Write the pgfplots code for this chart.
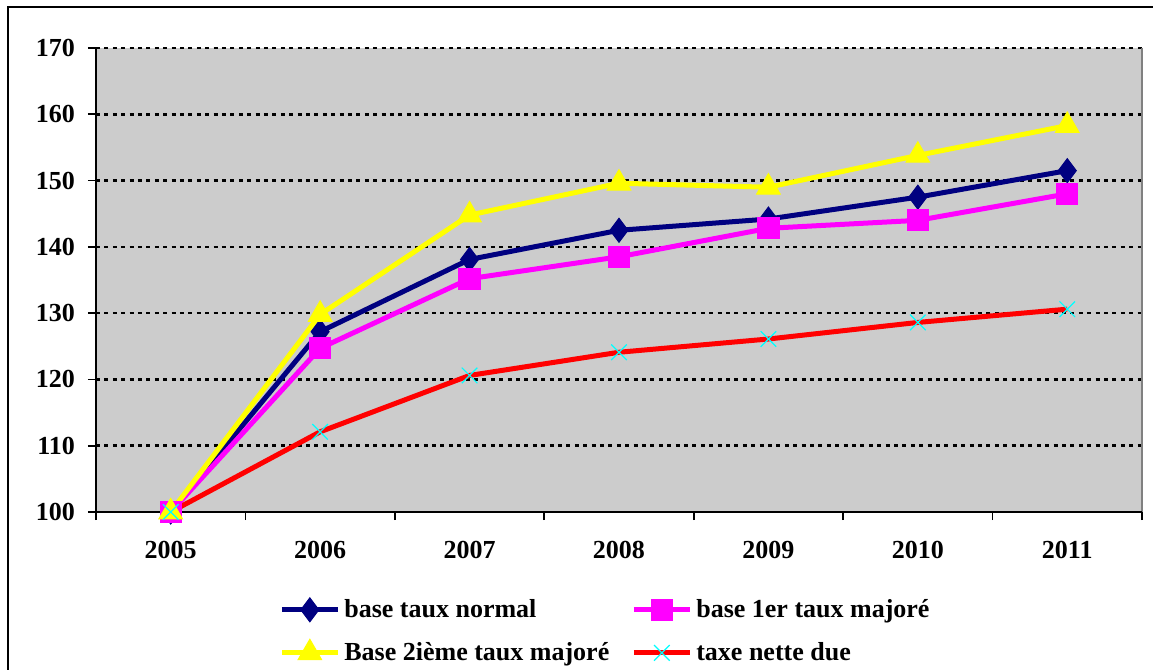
\documentclass[border=0pt]{standalone}
\usepackage{fontspec}
\setmainfont{Liberation Serif}
\usepackage{pgfplots}
\pgfplotsset{compat=1.18}
\definecolor{plotgray}{RGB}{204,204,204}
\definecolor{navyc}{RGB}{0,0,128}
\definecolor{magc}{RGB}{255,0,255}
\definecolor{yelc}{RGB}{255,255,0}
\definecolor{redc}{RGB}{255,0,0}
\definecolor{cyac}{RGB}{0,255,255}
\begin{document}
\begin{tikzpicture}[x=1pt,y=1pt]
\useasboundingbox (-48,-79) rectangle (528.5,256);
\draw[line width=1.2pt] (-44,-120) rectangle (560,252.5);
\begin{axis}[
  at={(0,0)}, anchor=south west, scale only axis,
  width=523pt, height=232pt,
  xmin=-0.5, xmax=6.5, ymin=100, ymax=170,
  xtick={0,...,6}, xticklabels={2005,2006,2007,2008,2009,2010,2011},
  minor xtick={-0.5,0.5,...,6.5},
  ytick={100,110,...,170},
  major x tick style={draw=none},
  minor tick length=4pt, major tick length=4pt,
  tick align=outside, tick pos=left,
  tick style={black, line width=0.8pt},
  axis background/.style={fill=plotgray},
  axis line style={draw=none},
  ymajorgrids,
  grid style={black, line width=1.3pt, dash pattern=on 2pt off 2.2pt},
  /pgf/number format/assume math mode=true,
  ticklabel style={font=\fontsize{13}{15}\selectfont\bfseries},
  xticklabel style={yshift=-7pt},
  yticklabel style={xshift=-3pt},
  legend columns=2,
  legend style={at={(0.488,-0.17)}, anchor=north, draw=none, fill=none,
    font=\fontsize{13}{15}\selectfont\bfseries, row sep=7pt,
    /tikz/every even column/.append style={column sep=9pt}},
  legend cell align=left,
  legend image code/.code={
    \draw[#1, mark repeat=2, mark phase=2] plot coordinates {(0pt,0pt) (14pt,0pt) (28pt,0pt)};
  },
  clip=false,
]
\draw[gray, line width=0.9pt] (rel axis cs:1,0) -- (rel axis cs:1,1);
\draw[black, line width=0.9pt] (rel axis cs:0,0) -- (rel axis cs:0,1);
\draw[black, line width=0.9pt] (rel axis cs:0,0) -- (rel axis cs:1,0);

\addplot[navyc, line width=2.5pt, mark=diamond*, mark size=6pt, mark options={solid, line width=0.5pt}]
 coordinates {(0,100) (1,127.2) (2,138.1) (3,142.5) (4,144.2) (5,147.5) (6,151.5)};
\addlegendentry{base taux normal}
\addplot[magc, line width=2.5pt, mark=square*, mark size=5.3pt, mark options={solid, line width=0.5pt}]
 coordinates {(0,100) (1,124.7) (2,135.2) (3,138.5) (4,142.8) (5,144.0) (6,148.0)};
\addlegendentry{base 1er taux majoré}
\addplot[yelc, line width=2.5pt, mark=triangle*, mark size=6.8pt, mark options={solid, line width=0.5pt}]
 coordinates {(0,100) (1,129.8) (2,144.8) (3,149.6) (4,149.0) (5,153.8) (6,158.3)};
\addlegendentry{Base 2ième taux majoré}
\addplot[redc, line width=2.5pt, mark=x, mark size=5.5pt, mark options={solid, cyac, line width=0.6pt}]
 coordinates {(0,100) (1,112.1) (2,120.6) (3,124.1) (4,126.1) (5,128.6) (6,130.6)};
\addlegendentry{taxe nette due}
\end{axis}
\end{tikzpicture}
\end{document}
